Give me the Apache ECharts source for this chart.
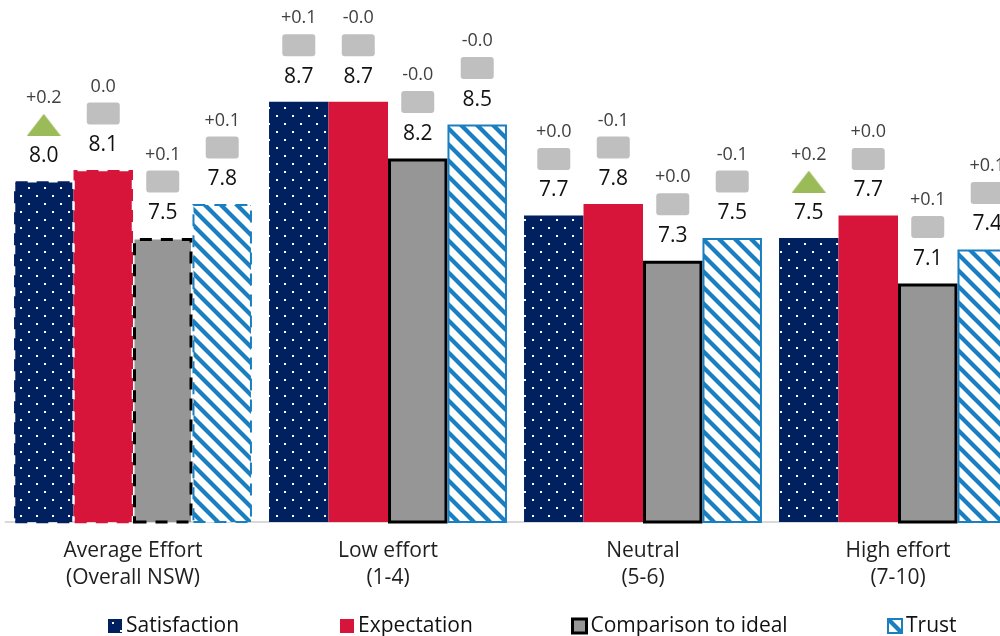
<!DOCTYPE html>
<html>
<head>
<meta charset="utf-8">
<script src="https://cdn.jsdelivr.net/npm/echarts@6/dist/echarts.min.js"></script>
<style>
  html, body { margin: 0; padding: 0; overflow: hidden; background: #fff; width: 1000px; height: 636px; }
  #chart { width: 1030px; height: 636px; }
</style>
</head>
<body>
<div id="chart"></div>
<script>
// Effort groups
const categories = ['Average Effort\n(Overall NSW)', 'Low effort\n(1-4)', 'Neutral\n(5-6)', 'High effort\n(7-10)'];

// Mean scores per measure
const satisfaction = [8.0, 8.7, 7.7, 7.5];
const expectation  = [8.1, 8.7, 7.8, 7.7];
const comparison   = [7.5, 8.2, 7.3, 7.1];
const trust        = [7.8, 8.5, 7.5, 7.4];

// Change since the previous wave
const satisfactionChange = ['+0.2', '+0.1', '+0.0', '+0.2'];
const expectationChange  = ['0.0', '-0.0', '-0.1', '+0.0'];
const comparisonChange   = ['+0.1', '-0.0', '+0.0', '+0.1'];
const trustChange        = ['+0.1', '-0.0', '-0.1', '+0.1'];

// Significant increase flags
const satisfactionSig = [true, false, false, true];
const expectationSig  = [false, false, false, false];
const comparisonSig   = [false, false, false, false];
const trustSig        = [false, false, false, false];

const NAVY = '#002060', RED = '#d7153a', GREY = '#969696', BLUE = '#1a7fc1';

// Navy fill with a staggered white dot grid
function dotPattern() {
  const c = document.createElement('canvas');
  c.width = 16; c.height = 16;
  const g = c.getContext('2d');
  g.fillStyle = NAVY; g.fillRect(0, 0, 16, 16);
  g.fillStyle = '#ffffff';
  g.fillRect(4, 3, 2, 2);
  g.fillRect(12, 11, 2, 2);
  return c;
}

// White fill with blue downward diagonal stripes
function stripePattern() {
  const s = 16;
  const c = document.createElement('canvas');
  c.width = s; c.height = s;
  const g = c.getContext('2d');
  g.fillStyle = '#ffffff'; g.fillRect(0, 0, s, s);
  g.strokeStyle = BLUE; g.lineWidth = 4.3;
  for (let k = -1; k <= 1; k++) {
    g.beginPath();
    g.moveTo(k * s - 2, -2);
    g.lineTo(k * s + s + 2, s + 2);
    g.stroke();
  }
  return c;
}

// Green up-triangle marking a significant rise
function triangleImage() {
  const c = document.createElement('canvas');
  c.width = 34; c.height = 22;
  const g = c.getContext('2d');
  g.fillStyle = '#9bbb59';
  g.beginPath();
  g.moveTo(0, 22); g.lineTo(17, 0); g.lineTo(34, 22); g.closePath();
  g.fill();
  return c;
}

const dotFill = { image: dotPattern(), repeat: 'repeat' };
const stripeFill = { image: stripePattern(), repeat: 'repeat' };
const triImg = triangleImage();

const FONT = '"Open Sans", sans-serif';

const labelRich = {
  d:   { fontFamily: FONT, fontSize: 18, color: '#404040', lineHeight: 29 },
  box: { backgroundColor: '#bfbfbf', width: 33, height: 22, borderRadius: 3, lineHeight: 25 },
  tri: { backgroundColor: { image: triImg }, width: 34, height: 22, lineHeight: 25 },
  v:   { fontFamily: FONT, fontSize: 21, color: '#111111', lineHeight: 38 }
};

function makeLabel(changes, sig) {
  return {
    show: true,
    position: 'top',
    distance: 6,
    rich: labelRich,
    formatter: function (p) {
      const icon = sig[p.dataIndex] ? '{tri|}' : '{box|}';
      return '{d|' + changes[p.dataIndex] + '}\n' + icon + '\n{v|' + Number(p.value).toFixed(1) + '}';
    }
  };
}

// The overall group is drawn with dashed outlines
function withDashedFirst(values, borderColor, borderWidth) {
  return values.map(function (v, i) {
    if (i !== 0) return v;
    return {
      value: v,
      itemStyle: { borderColor: borderColor, borderWidth: borderWidth, borderType: [12, 9] }
    };
  });
}

const legendItems = [
  { name: 'Satisfaction', x: 108, itemStyle: { borderWidth: 0 } },
  { name: 'Expectation', x: 340, itemStyle: { borderWidth: 0 } },
  { name: 'Comparison to ideal', x: 571, itemStyle: { borderColor: '#000000', borderWidth: 3 } },
  { name: 'Trust', x: 887, itemStyle: { borderColor: BLUE, borderWidth: 2 } }
];

const option = {
  animation: false,
  backgroundColor: '#ffffff',
  grid: { left: 5.5, right: 4.5, top: 11, bottom: 114 },
  xAxis: {
    type: 'category',
    data: categories,
    axisLine: { show: true, lineStyle: { color: '#d9d9d9', width: 2 } },
    axisTick: { show: false },
    axisLabel: { fontFamily: FONT, fontSize: 21, lineHeight: 27, color: '#1f1f1f', margin: 16 }
  },
  yAxis: {
    type: 'value', min: 5, max: 9.5, show: false, splitLine: { show: false }
  },
  legend: legendItems.map(function (it) {
    return {
      data: [{ name: it.name, itemStyle: it.itemStyle }],
      left: it.x,
      top: 614,
      padding: 0,
      itemWidth: 14,
      itemHeight: 14,
      selectedMode: false,
      icon: 'rect',
      textStyle: { fontFamily: FONT, fontSize: 21, color: '#111111', lineHeight: 24, padding: [0, 0, 0, -1] }
    };
  }),
  series: [
    {
      name: 'Satisfaction', type: 'bar',
      data: withDashedFirst(satisfaction, NAVY, 2.5),
      itemStyle: { color: dotFill, borderWidth: 0 },
      label: makeLabel(satisfactionChange, satisfactionSig),
      barGap: '0%', barCategoryGap: '6.7%'
    },
    {
      name: 'Expectation', type: 'bar',
      data: withDashedFirst(expectation, RED, 2.5),
      itemStyle: { color: RED, borderWidth: 0 },
      label: makeLabel(expectationChange, expectationSig),
      barGap: '0%', barCategoryGap: '6.7%'
    },
    {
      name: 'Comparison to ideal', type: 'bar',
      data: withDashedFirst(comparison, '#000000', 3),
      itemStyle: { color: GREY, borderColor: '#000000', borderWidth: 3 },
      label: makeLabel(comparisonChange, comparisonSig),
      barGap: '0%', barCategoryGap: '6.7%'
    },
    {
      name: 'Trust', type: 'bar',
      data: withDashedFirst(trust, BLUE, 2),
      itemStyle: { color: stripeFill, borderColor: BLUE, borderWidth: 2 },
      label: makeLabel(trustChange, trustSig),
      barGap: '0%', barCategoryGap: '6.7%'
    }
  ]
};

const chart = echarts.init(document.getElementById('chart'), null, { renderer: 'canvas' });
chart.setOption(option);
</script>
</body>
</html>
